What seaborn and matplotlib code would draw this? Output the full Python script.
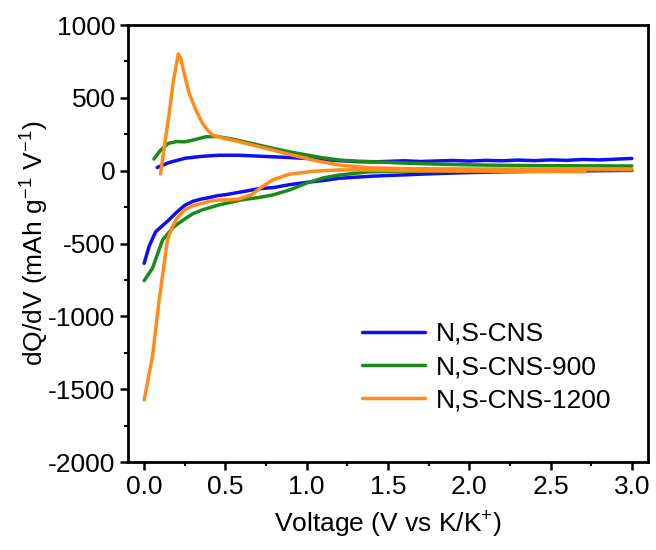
import numpy as np
import pandas as pd
import matplotlib
matplotlib.use("Agg")
import matplotlib.pyplot as plt
from matplotlib.ticker import MultipleLocator, FormatStrFormatter
from matplotlib.lines import Line2D
import seaborn as sns

# dQ/dV curves (charge = upper branch, discharge = lower branch), V vs K/K+
samples = ["N,S-CNS", "N,S-CNS-900", "N,S-CNS-1200"]
colors = ["#1010ee", "#1a8a1a", "#ff8c1a"]

# N,S-CNS
v_cns_charge = [0.08, 0.15, 0.25, 0.35, 0.46, 0.58, 0.70, 0.80, 0.90, 1.00, 1.10, 1.20,
                1.30, 1.40, 1.50, 1.60, 1.70, 1.80, 1.90, 2.00, 2.10, 2.20, 2.30, 2.40,
                2.50, 2.60, 2.70, 2.80, 2.90, 3.00]
q_cns_charge = [22, 55, 85, 98, 106, 106, 100, 95, 90, 84, 76, 69,
                62, 60, 64, 68, 63, 67, 70, 66, 71, 68, 73, 69,
                74, 71, 77, 74, 79, 84]
v_cns_discharge = [3.00, 2.80, 2.60, 2.40, 2.20, 2.00, 1.90, 1.80, 1.70, 1.60, 1.50, 1.40,
                   1.30, 1.20, 1.10, 1.00, 0.90, 0.80, 0.70, 0.60, 0.50, 0.45, 0.40, 0.35,
                   0.30, 0.25, 0.20, 0.15, 0.10, 0.07, 0.03, 0.00]
q_cns_discharge = [2, 0, -3, -5, -8, -13, -16, -20, -24, -29, -33, -38,
                   -45, -52, -68, -80, -95, -115, -125, -145, -165, -172, -185, -195,
                   -210, -238, -285, -340, -390, -420, -520, -636]

# N,S-CNS-900
v_900_charge = [0.06, 0.10, 0.15, 0.20, 0.25, 0.30, 0.38, 0.45, 0.55, 0.65, 0.79, 0.90,
                1.00, 1.10, 1.20, 1.30, 1.40, 1.60, 1.80, 2.00, 2.20, 2.50, 2.80, 3.00]
q_900_charge = [80, 140, 188, 200, 198, 210, 233, 235, 215, 190, 154, 128,
                108, 88, 73, 66, 62, 52, 45, 40, 37, 34, 33, 32]
v_900_discharge = [3.00, 2.60, 2.20, 1.80, 1.60, 1.50, 1.38, 1.30, 1.20, 1.10, 1.00, 0.90,
                   0.79, 0.70, 0.60, 0.50, 0.46, 0.36, 0.30, 0.256, 0.20, 0.174, 0.113,
                   0.051, 0.00]
q_900_discharge = [3, 2, 0, -2, -3, -5, -8, -18, -30, -50, -85, -130,
                   -167, -185, -200, -225, -235, -268, -295, -327, -370, -395, -476,
                   -670, -755]

# N,S-CNS-1200
v_1200_charge = [0.10, 0.154, 0.18, 0.21, 0.225, 0.246, 0.277, 0.318, 0.358, 0.39, 0.42,
                 0.50, 0.584, 0.666, 0.79, 0.87, 0.994, 1.076, 1.20, 1.38, 1.60, 2.00,
                 2.50, 3.00]
q_1200_charge = [-23, 394, 620, 801, 771, 668, 531, 417, 325, 279, 245,
                 220, 199, 176, 142, 118, 85, 64, 39, 20, 14, 12,
                 11, 10]
v_1200_discharge = [2.71, 2.40, 2.00, 1.60, 1.38, 1.20, 1.05, 0.994, 0.89, 0.79, 0.72,
                    0.66, 0.584, 0.52, 0.46, 0.40, 0.358, 0.30, 0.246, 0.20, 0.174, 0.143,
                    0.092, 0.051, 0.00]
q_1200_discharge = [-7, -5, -3, 0, 5, 5, -3, -10, -25, -64, -115,
                    -165, -195, -200, -201, -210, -224, -240, -270, -330, -384, -476,
                    -890, -1276, -1574]

branches = [
    (samples[0], "charge", v_cns_charge, q_cns_charge),
    (samples[0], "discharge", v_cns_discharge, q_cns_discharge),
    (samples[1], "charge", v_900_charge, q_900_charge),
    (samples[1], "discharge", v_900_discharge, q_900_discharge),
    (samples[2], "charge", v_1200_charge, q_1200_charge),
    (samples[2], "discharge", v_1200_discharge, q_1200_discharge),
]
frames = []
for name, branch, v, q in branches:
    frames.append(pd.DataFrame({"V": v, "Q": q, "sample": name,
                                "branch": f"{name}-{branch}"}))
df = pd.concat(frames, ignore_index=True)

sns.set_theme(style="ticks")
plt.rcParams["font.family"] = ["Liberation Sans", "DejaVu Sans"]
plt.rcParams["mathtext.fontset"] = "custom"
plt.rcParams["mathtext.rm"] = "Liberation Sans"
plt.rcParams["mathtext.it"] = "Liberation Sans"
plt.rcParams["axes.unicode_minus"] = False
plt.rcParams["text.color"] = "black"
plt.rcParams["axes.labelcolor"] = "black"

fig = plt.figure(figsize=(6.56, 5.5), dpi=100)
ax = fig.add_axes([0.195, 0.16, 0.793, 0.7945])

sns.lineplot(data=df, x="V", y="Q", hue="sample", units="branch",
             estimator=None, sort=False, palette=dict(zip(samples, colors)),
             hue_order=samples, linewidth=2.5, ax=ax, legend=False)

ax.set_xlim(-0.1, 3.1)
ax.set_ylim(-2000, 1000)
ax.xaxis.set_major_locator(MultipleLocator(0.5))
ax.xaxis.set_minor_locator(MultipleLocator(0.25))
ax.yaxis.set_major_locator(MultipleLocator(500))
ax.yaxis.set_minor_locator(MultipleLocator(250))
ax.xaxis.set_major_formatter(FormatStrFormatter("%.1f"))

ax.tick_params(axis="both", which="major", direction="out", length=6, width=1.8,
               labelsize=19, color="black", labelcolor="black", pad=3,
               bottom=True, left=True, top=False, right=False)
ax.tick_params(axis="both", which="minor", direction="out", length=3, width=1.5,
               color="black", bottom=True, left=True, top=False, right=False)
for s in ax.spines.values():
    s.set_visible(True)
    s.set_linewidth(2)
    s.set_color("black")

ax.set_xlabel(r"Voltage (V vs K/K$^{+}$)", fontsize=19, color="black", labelpad=8)
ax.set_ylabel(r"dQ/dV (mAh g$^{-1}$ V$^{-1}$)", fontsize=19, color="black", labelpad=-2)

handles = [Line2D([], [], color=c, linewidth=2.5) for c in colors]
leg = ax.legend(handles, samples, loc="upper left", bbox_to_anchor=(0.43, 0.345),
                frameon=False, fontsize=19, handlelength=2.4, handletextpad=0.4,
                labelspacing=0.35, borderaxespad=0)
for t in leg.get_texts():
    t.set_color("black")

fig.savefig("out.png", dpi=100, facecolor="white")
